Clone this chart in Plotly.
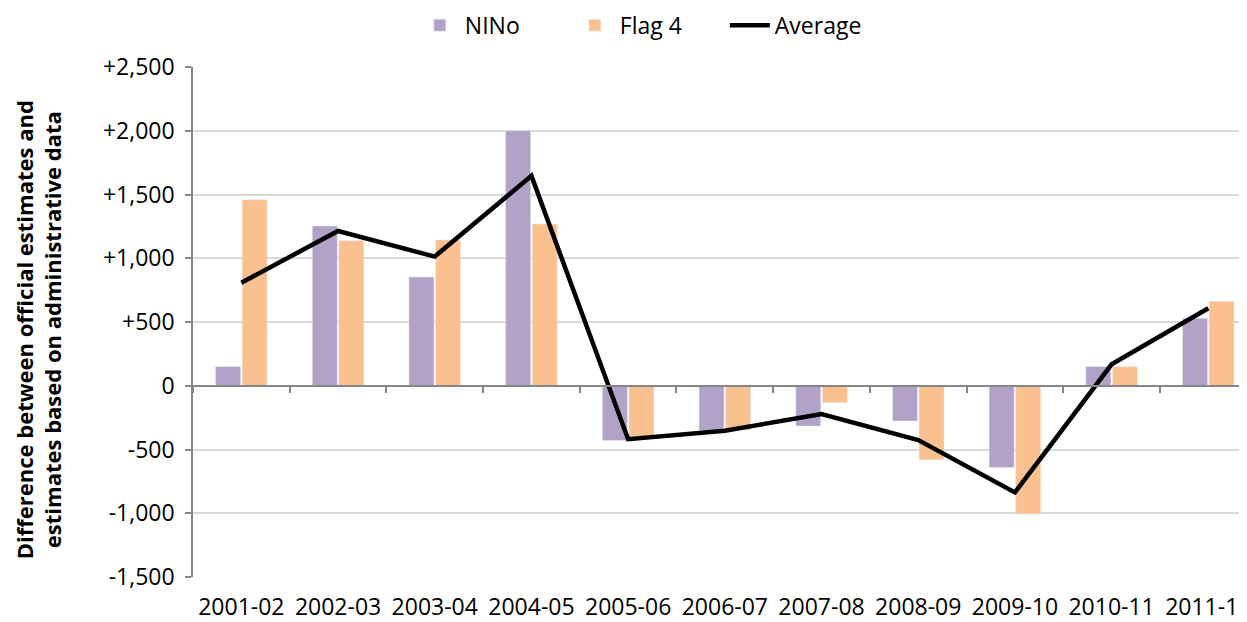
import plotly.graph_objects as go

years = ["2001-02", "2002-03", "2003-04", "2004-05", "2005-06", "2006-07",
         "2007-08", "2008-09", "2009-10", "2010-11", "2011-12"]
nino = [150, 1253, 853, 2000, -429, -353, -316, -277, -641, 150, 529]
flag4 = [1458, 1138, 1144, 1269, -405, -345, -133, -581, -1005, 150, 662]
average = [808, 1214, 1013, 1646, -419, -353, -222, -426, -837, 168, 608]

y_ticks = [-1500, -1000, -500, 0, 500, 1000, 1500, 2000, 2500]
y_labels = ["-1,500", "-1,000", "-500", "0", "+500", "+1,000", "+1,500", "+2,000", "+2,500"]
y_title = "Difference between official estimates and<br>estimates based on administrative data"

font = "Open Sans"
axis_grey = "#868686"

fig = go.Figure()
fig.add_trace(go.Bar(x=years, y=nino, name="NINo", marker=dict(color="#B3A2C7")))
fig.add_trace(go.Bar(x=years, y=flag4, name="Flag 4", marker=dict(color="#FAC090")))
fig.add_trace(go.Scatter(x=years, y=average, name="Average", mode="lines",
                         line=dict(color="black", width=4.5)))
# empty trace so the zero-line axis (with its category ticks) is drawn
fig.add_trace(go.Scatter(x=years, y=[None] * len(years), xaxis="x2", showlegend=False,
                         hoverinfo="skip"))

# y title as a rotated annotation so it can sit where the original does
fig.add_annotation(
    text="<b>" + y_title + "</b>",
    textangle=-90,
    xref="paper", yref="paper",
    x=-0.147, y=0.484,
    xanchor="center", yanchor="middle",
    showarrow=False,
    font=dict(size=22, color="black"),
)

# the page body has an 8px margin, so the figure is sized/offset to suit
fig.update_layout(
    autosize=False,
    width=1239,
    height=614,
    margin=dict(l=185, r=0, t=59, b=45),
    paper_bgcolor="white",
    plot_bgcolor="white",
    font=dict(family=font, size=23, color="black"),
    barmode="group",
    bargap=0.45,
    bargroupgap=0.06,
    showlegend=True,
    legend=dict(orientation="h", xref="container", yref="container",
                x=0.516, xanchor="center", y=0.972, yanchor="middle",
                font=dict(size=23), traceorder="normal", itemwidth=40,
                entrywidth=100, entrywidthmode="pixels"),
    xaxis=dict(
        type="category",
        range=[-0.5, 10.4],
        showline=False,
        showgrid=False,
        ticks="",
        automargin=False,
        ticklabelstandoff=14,
        tickfont=dict(size=23),
    ),
    xaxis2=dict(
        type="category",
        overlaying="x",
        anchor="free",
        position=1500 / 4000,
        range=[-0.5, 10.4],
        showline=True,
        linecolor=axis_grey,
        linewidth=1.5,
        ticks="outside",
        tickson="boundaries",
        ticklen=6,
        tickcolor=axis_grey,
        tickwidth=1.5,
        showticklabels=False,
        showgrid=False,
        automargin=False,
    ),
    yaxis=dict(
        range=[-1500, 2500],
        tickvals=y_ticks,
        ticktext=y_labels,
        showgrid=True,
        gridcolor="#D9D9D9",
        gridwidth=1.5,
        zeroline=False,
        showline=True,
        linecolor=axis_grey,
        linewidth=1.5,
        ticks="outside",
        ticklen=6,
        tickcolor=axis_grey,
        tickwidth=1.5,
        ticklabelstandoff=6,
        automargin=False,
        tickfont=dict(size=23),
    ),
)

fig.write_html("out.html")
